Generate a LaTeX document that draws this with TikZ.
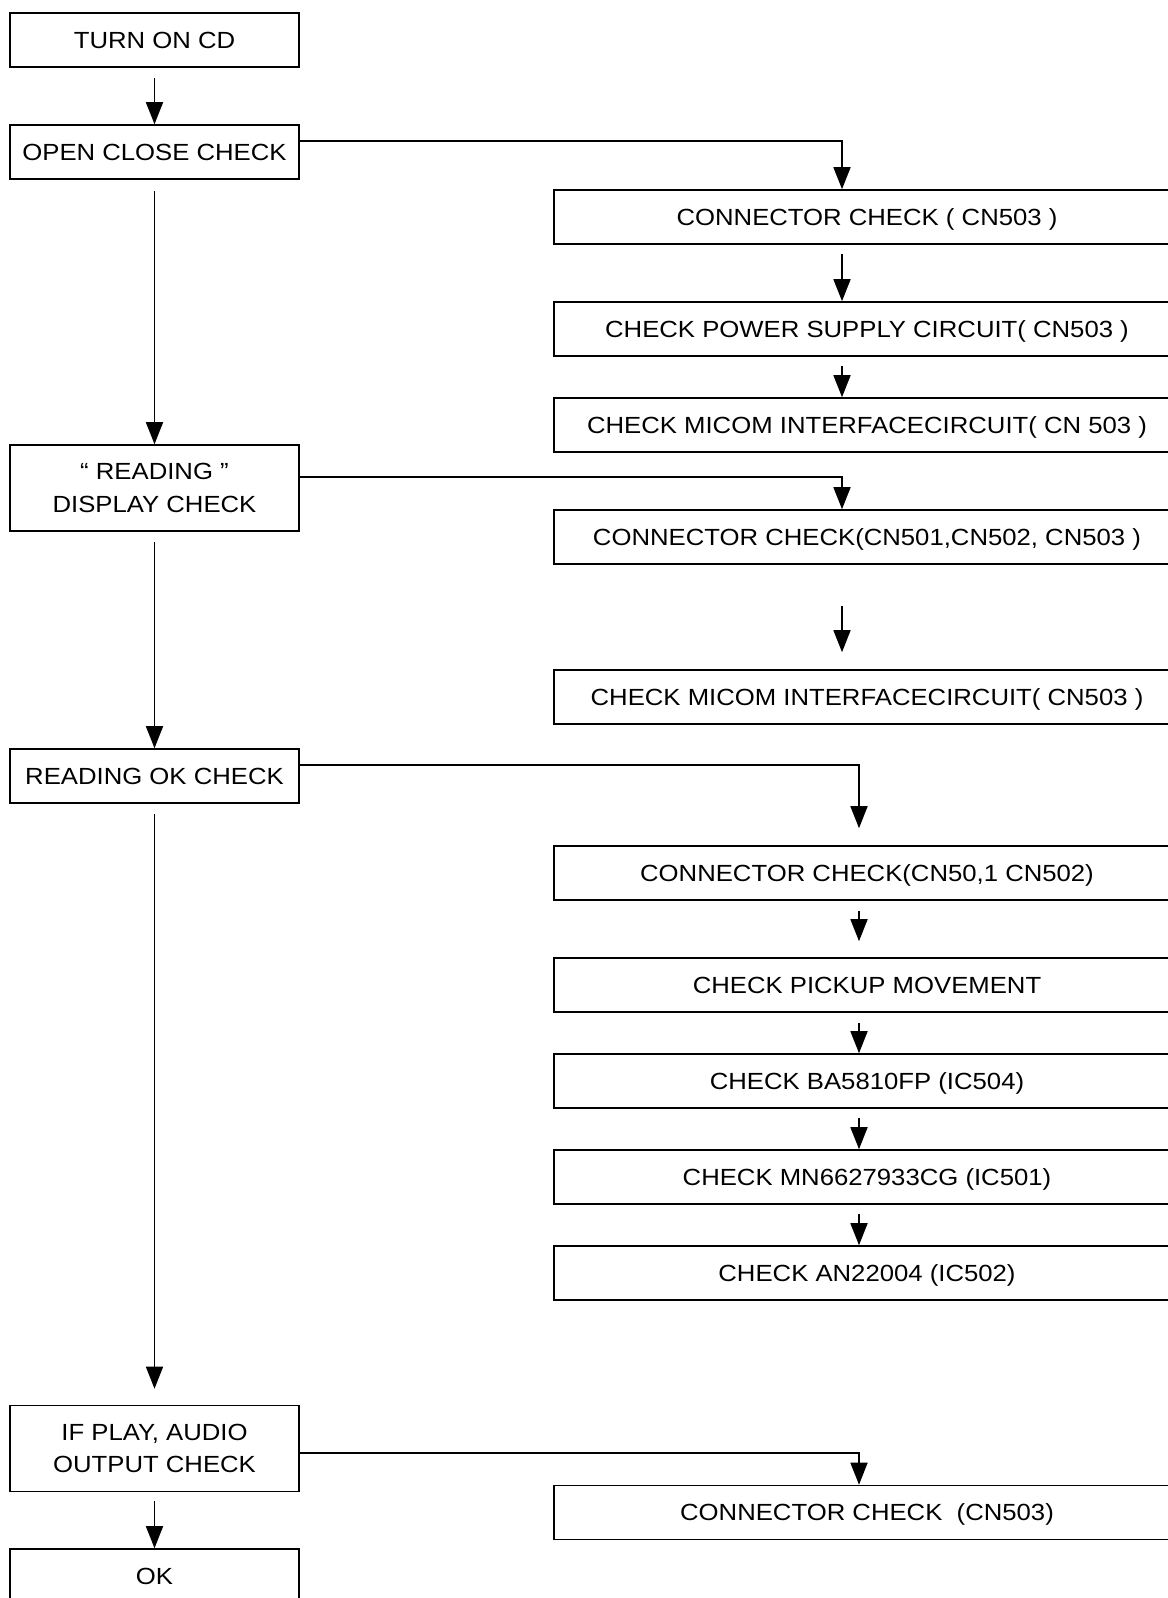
\documentclass[tikz,border=0pt]{standalone}
\usepackage{fontspec}
\setmainfont{Liberation Sans}[FakeStretch=1.1]
\usetikzlibrary{arrows.meta,calc}

\begin{document}
\begin{tikzpicture}[x=0.02cm,y=-0.02cm,
    box/.style={draw,line width=0.9pt,inner sep=0pt,minimum height=1.08cm,
      text height=9.6pt,text depth=0pt,font=\fontsize{13.3pt}{18.5pt}\selectfont},
    lbox/.style={box,minimum width=5.78cm},
    twobox/.style={draw,line width=0.9pt,inner sep=0pt,minimum width=5.78cm,
      minimum height=1.72cm,align=center,font=\fontsize{13.3pt}{18.5pt}\selectfont},
    rbox/.style={box,minimum width=12.52cm},
    arr/.style={line width=0.9pt,-{Triangle[length=0.44cm,width=0.34cm]}}]
  \useasboundingbox (0,0) rectangle (1168,1598);

  % main column
  \node[lbox] (turn) at (154.5,40) {TURN ON CD};
  \node[lbox] (open) at (154.5,152) {OPEN CLOSE CHECK};
  \node[twobox] (read) at (154.5,488) {“ READING ”\\DISPLAY CHECK};
  \node[lbox] (readok) at (154.5,776) {READING OK CHECK};
  \node[twobox] (ifplay) at (154.5,1448.5) {IF PLAY, AUDIO\\OUTPUT CHECK};
  \node[lbox] (ok) at (154.5,1576) {OK};

  % check column
  \node[rbox] (conna) at (867,217) {CONNECTOR CHECK ( CN503 )};
  \node[rbox] (power) at (867,329) {CHECK POWER SUPPLY CIRCUIT( CN503 )};
  \node[rbox] (micoma) at (867,425) {CHECK MICOM INTERFACECIRCUIT( CN 503 )};
  \node[rbox] (connb) at (867,537) {CONNECTOR CHECK(CN501,CN502, CN503 )};
  \node[rbox] (micomb) at (867,697) {CHECK MICOM INTERFACECIRCUIT( CN503 )};
  \node[rbox] (connc) at (867,873) {CONNECTOR CHECK(CN50,1 CN502)};
  \node[rbox] (pickup) at (867,985) {CHECK PICKUP MOVEMENT};
  \node[rbox] (ba) at (867,1081) {CHECK BA5810FP (IC504)};
  \node[rbox] (mn) at (867,1177) {CHECK MN6627933CG (IC501)};
  \node[rbox] (an) at (867,1273) {CHECK AN22004 (IC502)};
  \node[rbox] (connd) at (867,1512.5) {CONNECTOR CHECK \ (CN503)};

  \coordinate (ax) at (842,0);
  \coordinate (bx) at (859,0);

  % main flow
  \draw[arr] ([yshift=-0.21cm]turn.south) -- (open.north);
  \draw[arr] ([yshift=-0.22cm]open.south) -- (read.north);
  \draw[arr] ([yshift=-0.2cm]read.south) -- (readok.north);
  \draw[arr] ([yshift=-0.2cm]readok.south) -- ([yshift=0.32cm]ifplay.north);
  \draw[arr] ([yshift=-0.18cm]ifplay.south) -- (ok.north);

  % branches
  \draw[arr] ([yshift=0.22cm]open.east) -| (ax |- conna.north);
  \draw[arr] ([yshift=0.22cm]read.east) -| (ax |- connb.north);
  \draw[arr] ([yshift=0.22cm]readok.east) -| ([yshift=0.34cm]bx |- connc.north);
  \draw[arr] ([yshift=-0.09cm]ifplay.east) -| (bx |- connd.north);

  % checks
  \draw[arr] ([yshift=-0.18cm]ax |- conna.south) -- (ax |- power.north);
  \draw[arr] ([yshift=-0.18cm]ax |- power.south) -- (ax |- micoma.north);
  \draw[arr] ([yshift=-0.82cm]ax |- connb.south) -- ([yshift=0.34cm]ax |- micomb.north);
  \draw[arr] ([yshift=-0.2cm]bx |- connc.south) -- ([yshift=0.32cm]bx |- pickup.north);
  \draw[arr] ([yshift=-0.2cm]bx |- pickup.south) -- (bx |- ba.north);
  \draw[arr] ([yshift=-0.18cm]bx |- ba.south) -- (bx |- mn.north);
  \draw[arr] ([yshift=-0.18cm]bx |- mn.south) -- (bx |- an.north);
\end{tikzpicture}
\end{document}
